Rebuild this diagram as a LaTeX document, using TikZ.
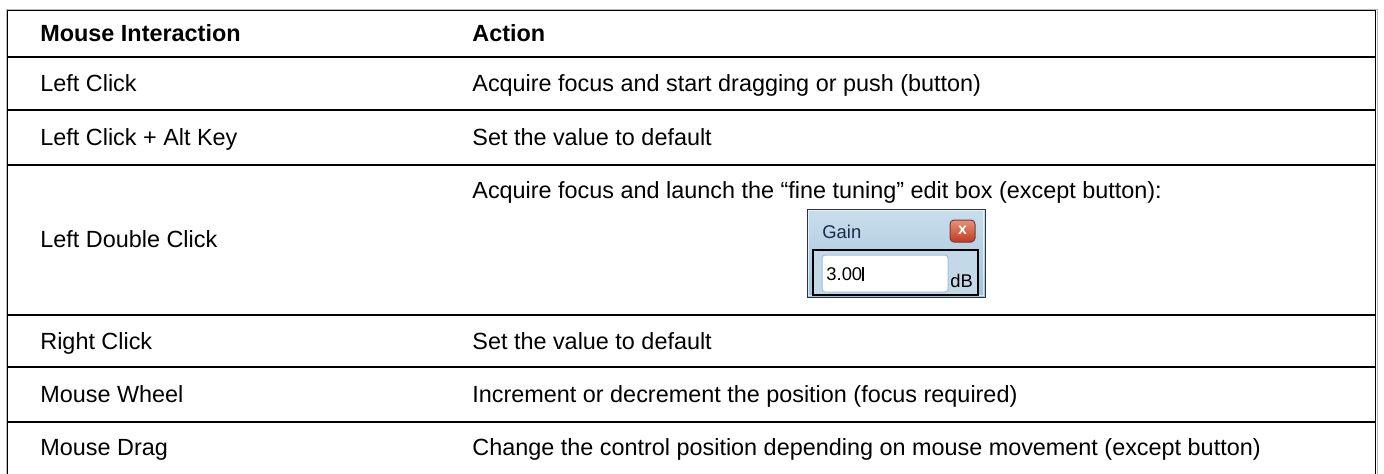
\documentclass[tikz,border=0pt]{standalone}
\usepackage{fontspec}
\setmainfont{Liberation Sans}
\usetikzlibrary{positioning}

\definecolor{winTop}{HTML}{C9DEEC}
\definecolor{winBot}{HTML}{A3C3DA}
\definecolor{winEdge}{HTML}{2B3440}
\definecolor{gainText}{HTML}{1A2A48}
\definecolor{closeTop}{HTML}{E8927A}
\definecolor{closeBot}{HTML}{C23A22}
\definecolor{closeEdge}{HTML}{7A3A30}
\definecolor{editEdge}{HTML}{9CC0E0}
\definecolor{panel}{HTML}{C4D9E8}

\begin{document}
\begin{tikzpicture}[x=0.5pt,y=-0.5pt,
	cell/.style={anchor=base west,inner sep=0pt,font=\fontsize{11.7}{14}\selectfont},
	headcell/.style={cell,font=\fontsize{11.7}{14}\selectfont\bfseries},
	rule/.style={line width=0.8pt},
	wintext/.style={anchor=base west,inner sep=0pt,font=\fontsize{9.2}{10}\selectfont}]
	\clip (0,0) rectangle (1384,473);
	\fill[white] (0,0) rectangle (1384,473);

	% table frame and row rules
	\draw[gray!55,line width=0.7pt] (6.3,480) -- (6.3,9.3) -- (1377.2,9.3) -- (1377.2,480);
	\draw[line width=0.5pt] (7.7,480) -- (7.7,10.7) -- (1375.8,10.7) -- (1375.8,480);
	\foreach \y in {57,110,165,315,367,422}
		\draw[rule] (7,\y) -- (1376,\y);

	% header
	\node[headcell] (hmouse) at (40,41.5) {Mouse Interaction};
	\node[headcell] (haction) at (472,41.5) {Action};

	% rows
	\node[cell] (m1) at (40,91.5) {Left Click};
	\node[cell] (a1) at (472,91.5) {Acquire focus and start dragging or push (button)};
	\node[cell] (m2) at (40,145) {Left Click + Alt Key};
	\node[cell] (a2) at (472,145) {Set the value to default};
	\node[cell] (m3) at (40,247.5) {Left Double Click};
	\node[cell] (a3) at (472,198.5) {Acquire focus and launch the “fine tuning” edit box (except button):};
	\node[cell] (m4) at (40,349) {Right Click};
	\node[cell] (a4) at (472,349) {Set the value to default};
	\node[cell] (m5) at (40,402.5) {Mouse Wheel};
	\node[cell] (a5) at (472,402.5) {Increment or decrement the position (focus required)};
	\node[cell] (m6) at (40,455.5) {Mouse Drag};
	\node[cell] (a6) at (472,455.5) {Change the control position depending on mouse movement (except button)};

	% fine tuning edit box
	\begin{scope}[shift={(807,209)}]
		\shade[top color=winTop,bottom color=winBot,draw=winEdge,line width=0.5pt] (0,0) rectangle (178,88);
		\draw[white,opacity=0.6,line width=0.5pt] (1.5,1.5) rectangle (176.5,86.5);
		\node[wintext,text=gainText] (gain) at (15,29) {Gain};
		\shade[top color=closeTop,bottom color=closeBot,draw=closeEdge,line width=0.5pt,rounded corners=2pt] (143,11) rectangle (168,33);
		\node[inner sep=0pt,text=white,font=\bfseries\fontsize{8}{8}\selectfont] (close) at (155.5,21) {x};
		\draw[line width=0.75pt,fill=panel] (6,41) rectangle (171,86);
		\draw[draw=editEdge,fill=white,line width=0.5pt,rounded corners=1.5pt] (15,46) rectangle (141,83);
		\node[wintext] (gainval) at (19,71) {3.00};
		\draw[line width=0.6pt] (56,58) -- (56,72);
		\node[wintext] (gainunit) at (143,78) {dB};
	\end{scope}
\end{tikzpicture}
\end{document}
